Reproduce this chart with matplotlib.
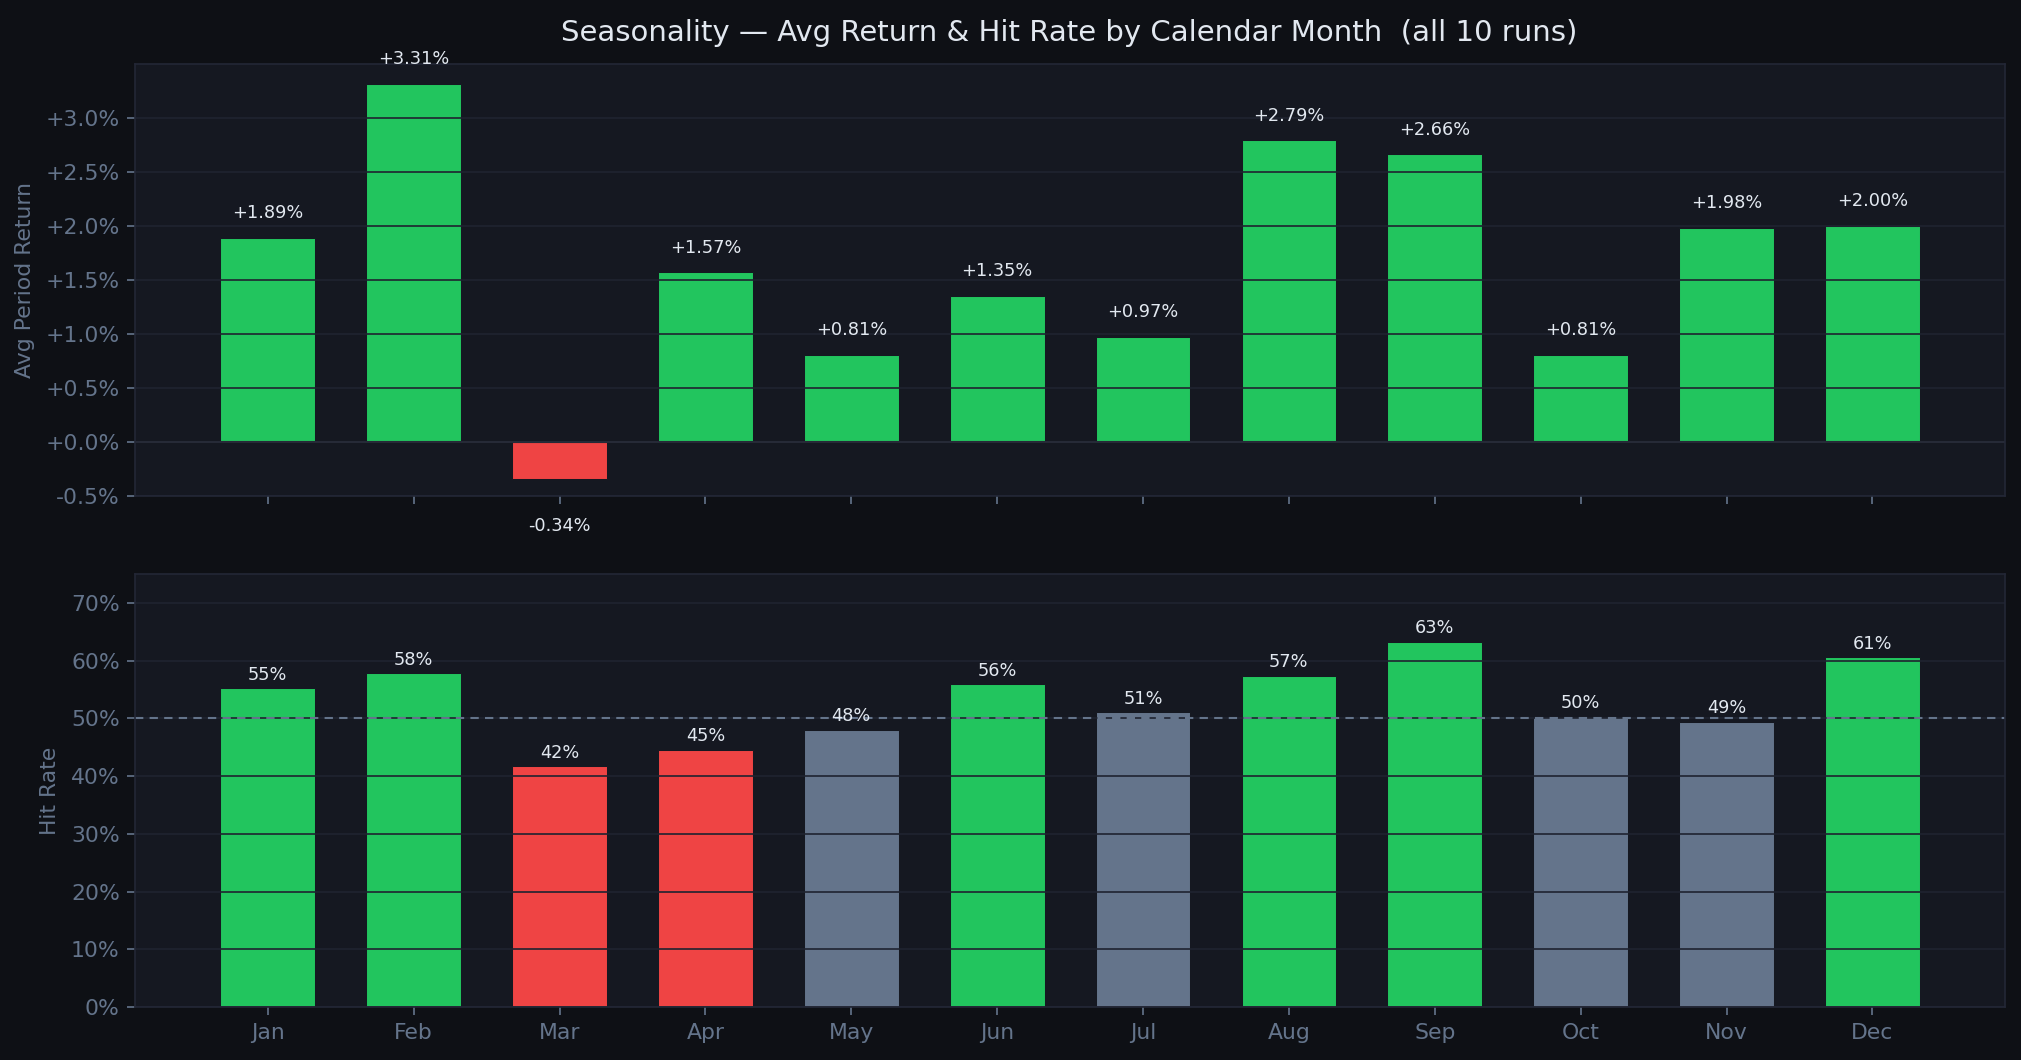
import numpy as np
import matplotlib
matplotlib.use('Agg')
import matplotlib.pyplot as plt
from matplotlib.ticker import FuncFormatter

# Data
months = ['Jan', 'Feb', 'Mar', 'Apr', 'May', 'Jun', 'Jul', 'Aug', 'Sep', 'Oct', 'Nov', 'Dec']
avg_return = [1.89, 3.31, -0.34, 1.57, 0.81, 1.35, 0.97, 2.79, 2.66, 0.81, 1.98, 2.00]  # percent
hit_rate = [55.2, 57.8, 41.7, 44.6, 48.0, 55.9, 51.1, 57.4, 63.3, 50.3, 49.4, 60.6]  # percent

BG = '#0e1015'
PANEL = '#151821'
GRID = '#1f2330'
SPINE = '#232736'
MUTED = '#64748b'
TXT = '#e2e8f0'
GREEN = '#22c55e'
RED = '#ef4444'
GRAY = '#64748b'

plt.rcParams['font.family'] = ['DejaVu Sans']

fig, (ax1, ax2) = plt.subplots(2, 1, figsize=(2021 / 150, 1060 / 150), dpi=150, sharex=True)
fig.patch.set_facecolor(BG)
fig.subplots_adjust(left=0.067, right=0.992, top=0.94, bottom=0.05, hspace=0.18)

x = np.arange(len(months))

# top panel: average return
ret_colors = [GREEN if v >= 0 else RED for v in avg_return]
ax1.bar(x, avg_return, width=0.65, color=ret_colors, edgecolor=PANEL, linewidth=0.5)
ax1.axhline(0, color='#262a37', linewidth=1.0, zorder=1.6)
for i, v in enumerate(avg_return):
    if v >= 0:
        ax1.text(i, v + 0.23, f'{v:+.2f}%', ha='center', va='center', color=TXT, fontsize=8.5)
    else:
        ax1.text(i, v - 0.43, f'{v:+.2f}%', ha='center', va='center', color=TXT, fontsize=8.5)
ax1.set_ylim(-0.5, 3.5)
ax1.set_yticks(np.arange(-0.5, 3.01, 0.5))
ax1.yaxis.set_major_formatter(FuncFormatter(lambda v, p: f'{v:+.1f}%'))
ax1.set_ylabel('Avg Period Return', color=MUTED, fontsize=10.5, labelpad=5)

# bottom panel: hit rate
hit_colors = [GREEN if v >= 55 else (RED if v < 45 else GRAY) for v in hit_rate]
ax2.bar(x, hit_rate, width=0.65, color=hit_colors, edgecolor=PANEL, linewidth=0.5)
ax2.axhline(50, color=MUTED, linewidth=1.0, linestyle=(0, (4, 3)), zorder=2.5)
for i, v in enumerate(hit_rate):
    ax2.text(i, v + 0.8, f'{v:.0f}%', ha='center', va='bottom', color=TXT, fontsize=8.5)
ax2.set_ylim(0, 75)
ax2.set_yticks(np.arange(0, 71, 10))
ax2.yaxis.set_major_formatter(FuncFormatter(lambda v, p: f'{v:.0f}%'))
ax2.set_ylabel('Hit Rate', color=MUTED, fontsize=10.5, labelpad=5)
ax2.set_xticks(x)
ax2.set_xticklabels(months)

for ax in (ax1, ax2):
    ax.set_facecolor(PANEL)
    ax.grid(axis='y', color=GRID, linewidth=0.8)
    ax.tick_params(colors=MUTED, labelsize=10.5, length=4)
    for s in ax.spines.values():
        s.set_color(SPINE)

fig.suptitle('Seasonality \u2014 Avg Return & Hit Rate by Calendar Month  (all 10 runs)',
             color=TXT, fontsize=14, x=0.529, y=0.982)

plt.savefig('out.png', facecolor=BG)
